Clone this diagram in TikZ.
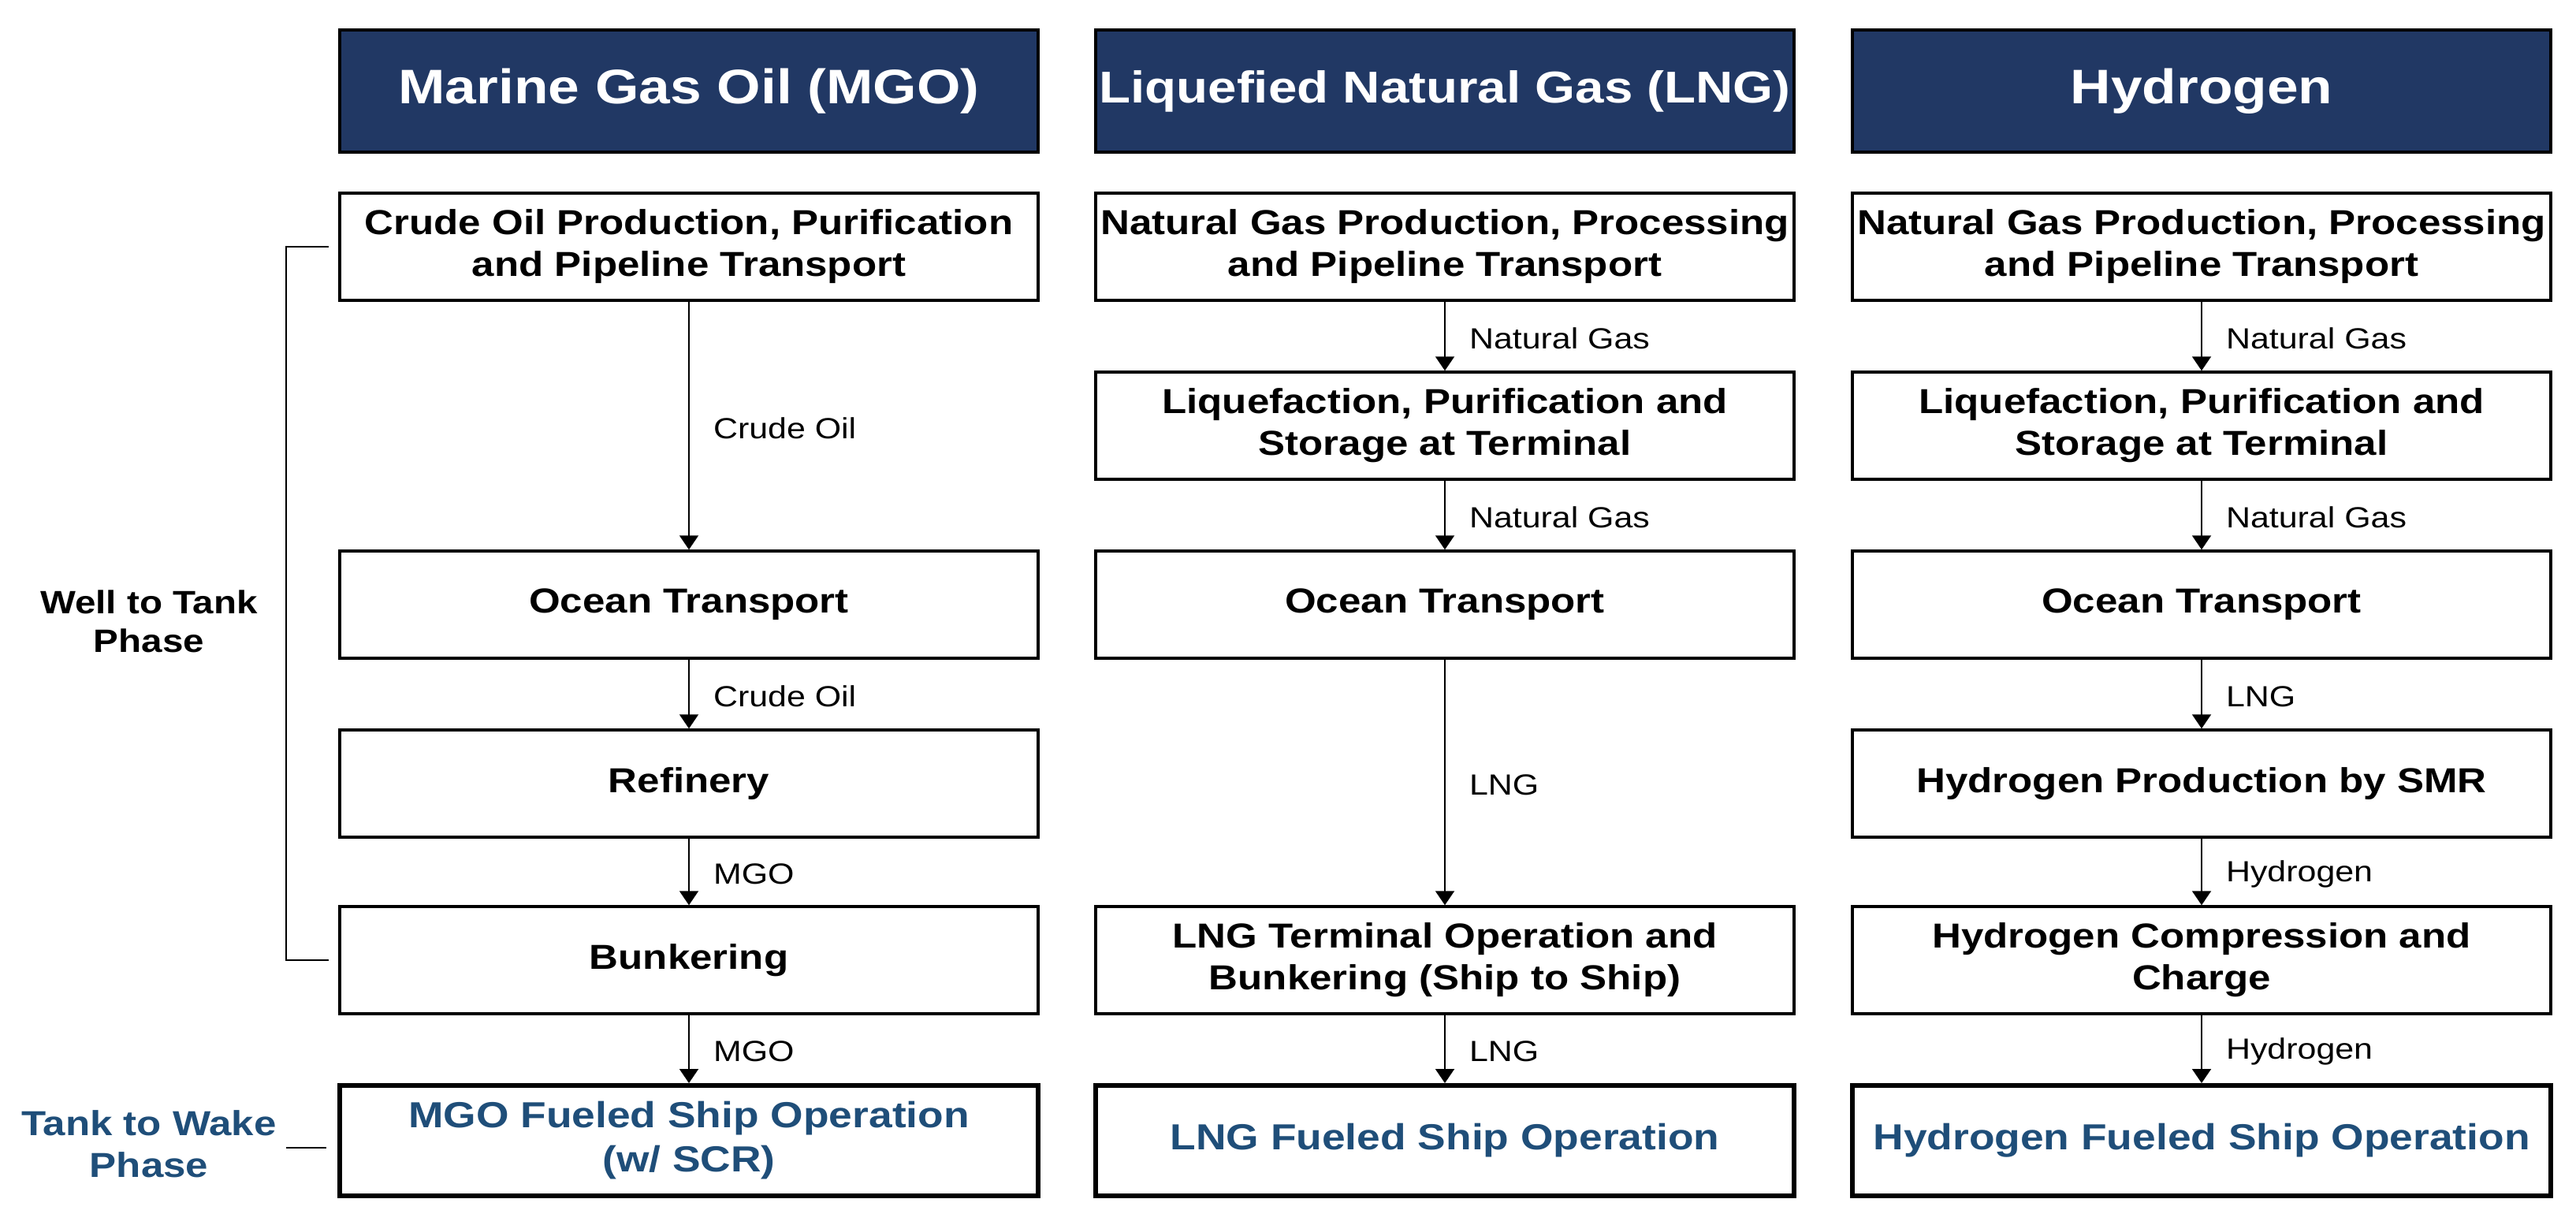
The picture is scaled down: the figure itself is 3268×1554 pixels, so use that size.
\documentclass[tikz,border=0pt]{standalone}
\usepackage{fontspec}
\setmainfont{Liberation Sans}[FakeStretch=1.16]
\usetikzlibrary{arrows.meta}
\definecolor{navy}{HTML}{213864}
\definecolor{blueT}{HTML}{1F4E79}
\begin{document}
\begin{tikzpicture}[x=1pt,y=-1pt,
  hdr/.style={draw=black, line width=4pt, fill=navy, text=white, minimum width=886pt, minimum height=155pt, inner sep=0pt, font=\bfseries\fontsize{61.5}{72}\selectfont},
  box/.style={draw=black, line width=3.5pt, fill=white, minimum width=886pt, minimum height=136pt, inner sep=0pt, align=center, font=\bfseries\fontsize{44}{53}\selectfont},
  fin/.style={box, line width=6pt, minimum height=140pt, text=blueT, font=\bfseries\fontsize{46}{56}\selectfont},
  arr/.style={line width=2pt, -{Triangle[length=18pt,width=24pt]}},
  lbl/.style={anchor=west, xshift=30pt, yshift=-3pt, inner sep=0pt, font=\fontsize{37}{44}\selectfont},
  phase/.style={align=center, inner sep=0pt, font=\bfseries\fontsize{41}{49}\selectfont},
  brk/.style={line width=2pt}
]
\useasboundingbox (0,0) rectangle (3268,1554);

% headers
\node[hdr] (hm) at (874,116) {Marine Gas Oil (MGO)};
\node[hdr, font=\bfseries\fontsize{56.5}{66}\selectfont] (hl) at (1833,116) {Liquefied Natural Gas (LNG)};
\node[hdr] (hh) at (2793,116) {Hydrogen};

% MGO column
\node[box] (m1) at (874,313) {Crude Oil Production, Purification\\and Pipeline Transport};
\node[box] (m3) at (874,767) {Ocean Transport};
\node[box] (m4) at (874,994) {Refinery};
\node[box] (m5) at (874,1218) {Bunkering};
\node[fin] (m6) at (874,1447) {MGO Fueled Ship Operation\\(w/ SCR)};

% LNG column
\node[box] (l1) at (1833,313) {Natural Gas Production, Processing\\and Pipeline Transport};
\node[box] (l2) at (1833,540) {Liquefaction, Purification and\\Storage at Terminal};
\node[box] (l3) at (1833,767) {Ocean Transport};
\node[box] (l5) at (1833,1218) {LNG Terminal Operation and\\Bunkering (Ship to Ship)};
\node[fin] (l6) at (1833,1447) {LNG Fueled Ship Operation};

% Hydrogen column
\node[box] (g1) at (2793,313) {Natural Gas Production, Processing\\and Pipeline Transport};
\node[box] (g2) at (2793,540) {Liquefaction, Purification and\\Storage at Terminal};
\node[box] (g3) at (2793,767) {Ocean Transport};
\node[box] (g4) at (2793,994) {Hydrogen Production by SMR};
\node[box] (g5) at (2793,1218) {Hydrogen Compression and\\Charge};
\node[fin] (g6) at (2793,1447) {Hydrogen Fueled Ship Operation};

% arrows MGO
\draw[arr] (m1.south) -- node[lbl]{Crude Oil} (m3.north);
\draw[arr] (m3.south) -- node[lbl]{Crude Oil} (m4.north);
\draw[arr] (m4.south) -- node[lbl]{MGO} (m5.north);
\draw[arr] (m5.south) -- node[lbl]{MGO} (m6.north);

% arrows LNG
\draw[arr] (l1.south) -- node[lbl]{Natural Gas} (l2.north);
\draw[arr] (l2.south) -- node[lbl]{Natural Gas} (l3.north);
\draw[arr] (l3.south) -- node[lbl]{LNG} (l5.north);
\draw[arr] (l5.south) -- node[lbl]{LNG} (l6.north);

% arrows Hydrogen
\draw[arr] (g1.south) -- node[lbl]{Natural Gas} (g2.north);
\draw[arr] (g2.south) -- node[lbl]{Natural Gas} (g3.north);
\draw[arr] (g3.south) -- node[lbl]{LNG} (g4.north);
\draw[arr] (g4.south) -- node[lbl]{Hydrogen} (g5.north);
\draw[arr] (g5.south) -- node[lbl]{Hydrogen} (g6.north);

% phase labels
\node[phase] (wtt) at (189,788) {Well to Tank\\Phase};
\node[phase, text=blueT, font=\bfseries\fontsize{44}{53}\selectfont] (ttw) at (189,1451) {Tank to Wake\\Phase};

% bracket
\coordinate (bt) at (417,313);
\coordinate (btc) at (363,313);
\coordinate (bbc) at (363,1218);
\coordinate (bb) at (417,1218);
\draw[brk] (bt) -- (btc) -- (bbc) -- (bb);
\coordinate (ta) at (363,1456);
\coordinate (tb) at (414,1456);
\draw[brk] (ta) -- (tb);
\end{tikzpicture}
\end{document}
